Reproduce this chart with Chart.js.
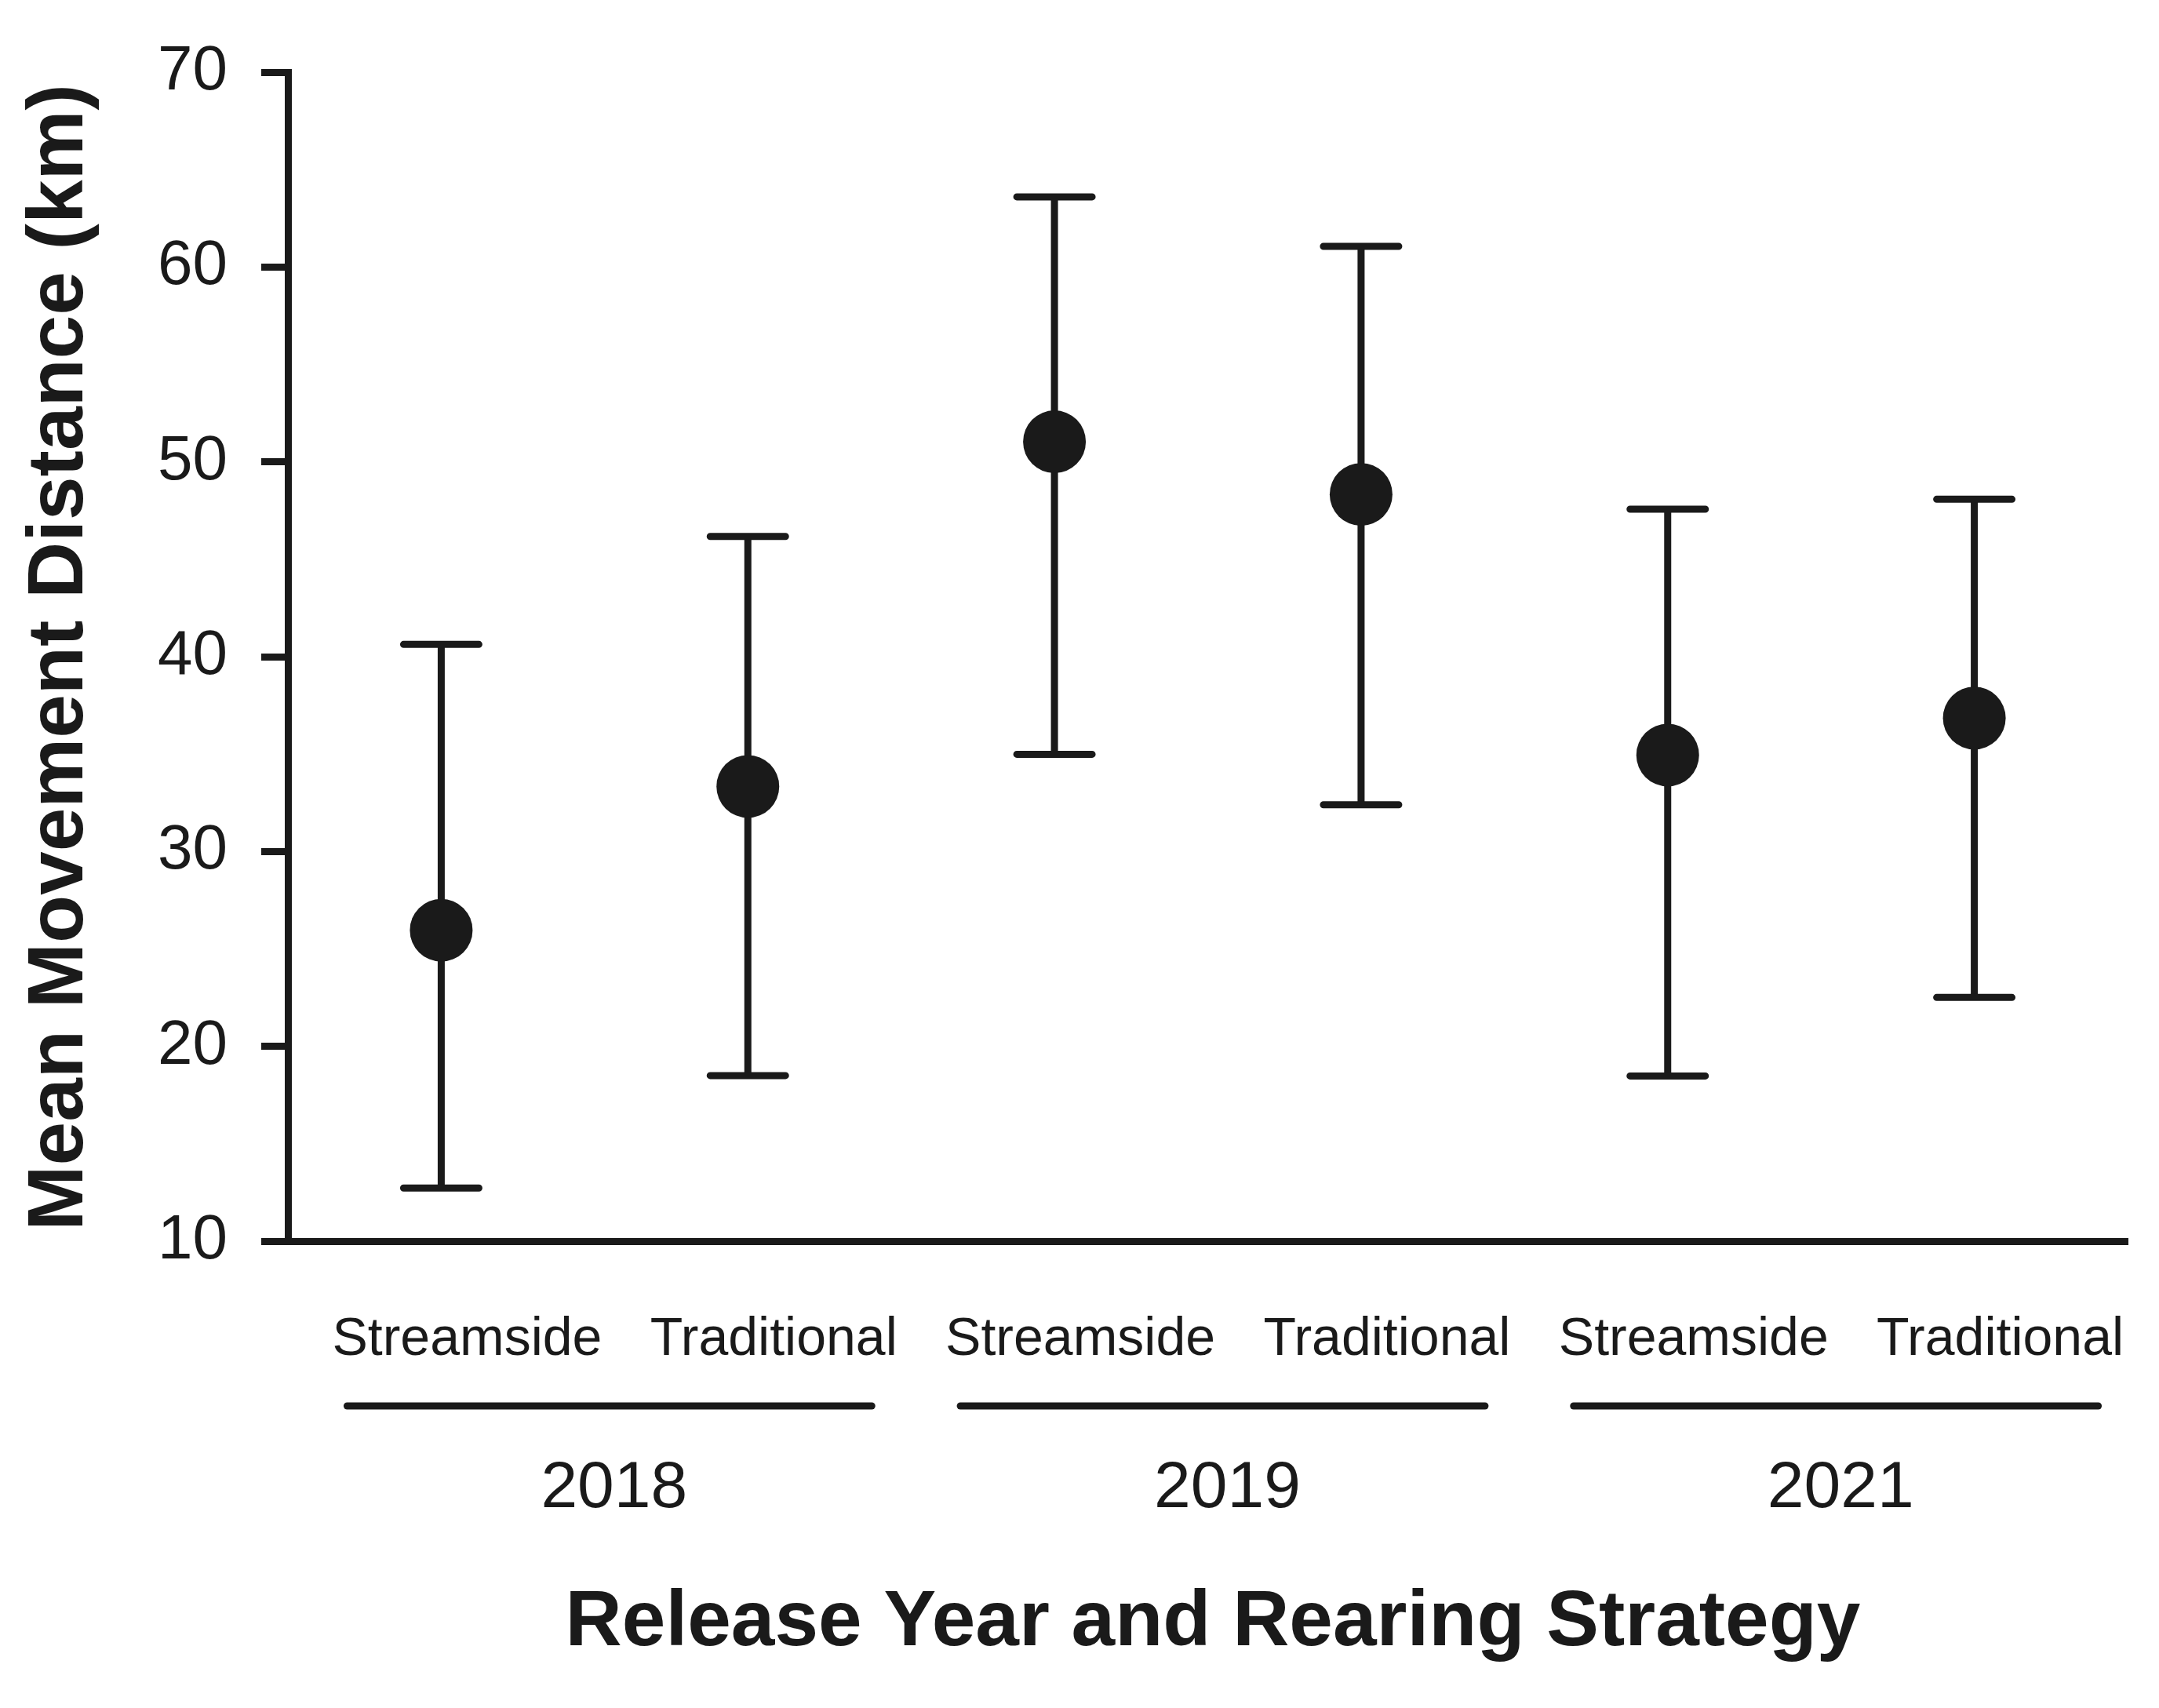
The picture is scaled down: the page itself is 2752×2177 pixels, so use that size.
<!DOCTYPE html>
<html>
<head>
<meta charset="utf-8">
<script src="https://cdn.jsdelivr.net/npm/chart.js@4"></script>
<style>
  html, body { margin: 0; padding: 0; background: #fff; }
  canvas { display: block; }
</style>
</head>
<body>
<canvas id="chart" width="2752" height="2177"></canvas>
<script>
// data (km)
const categories = ['Streamside', 'Traditional', 'Streamside', 'Traditional', 'Streamside', 'Traditional'];
const years = ['2018', '2019', '2021'];
const meanDistance = [25.96, 33.34, 51.03, 48.33, 34.95, 36.85];
const upperLimit = [40.63, 46.17, 63.6, 61.06, 47.57, 48.08];
const lowerLimit = [12.73, 18.5, 34.99, 32.4, 18.48, 22.51];
const yTicks = [10, 20, 30, 40, 50, 60, 70];

const ink = '#1a1a1a';
const family = '"Liberation Sans", Arial, Helvetica, sans-serif';

// error bars with caps, drawn under the points
const errorBars = {
    id: 'errorBars',
    beforeDatasetsDraw(chart) {
        const ctx = chart.ctx;
        const x = chart.scales.x, y = chart.scales.y;
        ctx.save();
        ctx.strokeStyle = ink;
        ctx.lineWidth = 9;
        meanDistance.forEach((m, i) => {
            const px = x.getPixelForValue(i);
            const top = y.getPixelForValue(upperLimit[i]);
            const bot = y.getPixelForValue(lowerLimit[i]);
            ctx.lineCap = 'butt';
            ctx.beginPath();
            ctx.moveTo(px, top);
            ctx.lineTo(px, bot);
            ctx.stroke();
            ctx.lineCap = 'round';
            ctx.beginPath();
            ctx.moveTo(px - 48, top); ctx.lineTo(px + 48, top);
            ctx.moveTo(px - 48, bot); ctx.lineTo(px + 48, bot);
            ctx.stroke();
        });
        ctx.restore();
    }
};

// category labels, year groups and axis titles
const axisText = {
    id: 'axisText',
    afterDraw(chart) {
        const ctx = chart.ctx;
        const x = chart.scales.x;
        ctx.save();
        ctx.fillStyle = ink;
        ctx.strokeStyle = ink;
        ctx.textAlign = 'center';
        ctx.textBaseline = 'alphabetic';

        ctx.font = '68px ' + family;
        categories.forEach((c, i) => {
            ctx.fillText(c, x.getPixelForValue(i) + 33, 1727);
        });

        ctx.lineWidth = 9;
        ctx.lineCap = 'round';
        ctx.font = '84px ' + family;
        years.forEach((yr, g) => {
            const a = x.getPixelForValue(g * 2);
            const b = x.getPixelForValue(g * 2 + 1);
            ctx.beginPath();
            ctx.moveTo(a - 120, 1792);
            ctx.lineTo(b + 158, 1792);
            ctx.stroke();
            ctx.fillText(yr, (a + b) / 2 + 25, 1921);
        });

        ctx.font = 'bold 100px ' + family;
        ctx.fillText('Release Year and Rearing Strategy', 1546, 2097);

        ctx.translate(105, 838);
        ctx.rotate(-Math.PI / 2);
        ctx.fillText('Mean Movement Distance (km)', 0, 0);
        ctx.restore();
    }
};

new Chart(document.getElementById('chart'), {
    type: 'line',
    data: {
        labels: categories,
        datasets: [{
            data: meanDistance,
            showLine: false,
            pointRadius: 40,
            pointBackgroundColor: ink,
            pointBorderWidth: 0
        }]
    },
    options: {
        responsive: false,
        animation: false,
        events: [],
        layout: { padding: { top: 92, right: 34, left: 0, bottom: 0 } },
        plugins: { legend: { display: false }, tooltip: { enabled: false } },
        scales: {
            x: {
                type: 'category',
                offset: true,
                grid: { display: false, drawTicks: false },
                border: { display: true, color: ink, width: 9 },
                ticks: { display: false },
                afterFit(scale) { scale.height = 595; }
            },
            y: {
                min: 10,
                max: 70,
                afterBuildTicks(scale) { scale.ticks = yTicks.map(v => ({ value: v })); },
                grid: { drawOnChartArea: false, drawTicks: true, tickLength: 34, tickWidth: 9, tickColor: ink },
                border: { display: true, color: ink, width: 9 },
                ticks: { color: ink, padding: 43, font: { family: family, size: 80 } },
                afterFit(scale) { scale.width = 367; }
            }
        }
    },
    plugins: [errorBars, axisText]
});
</script>
</body>
</html>
